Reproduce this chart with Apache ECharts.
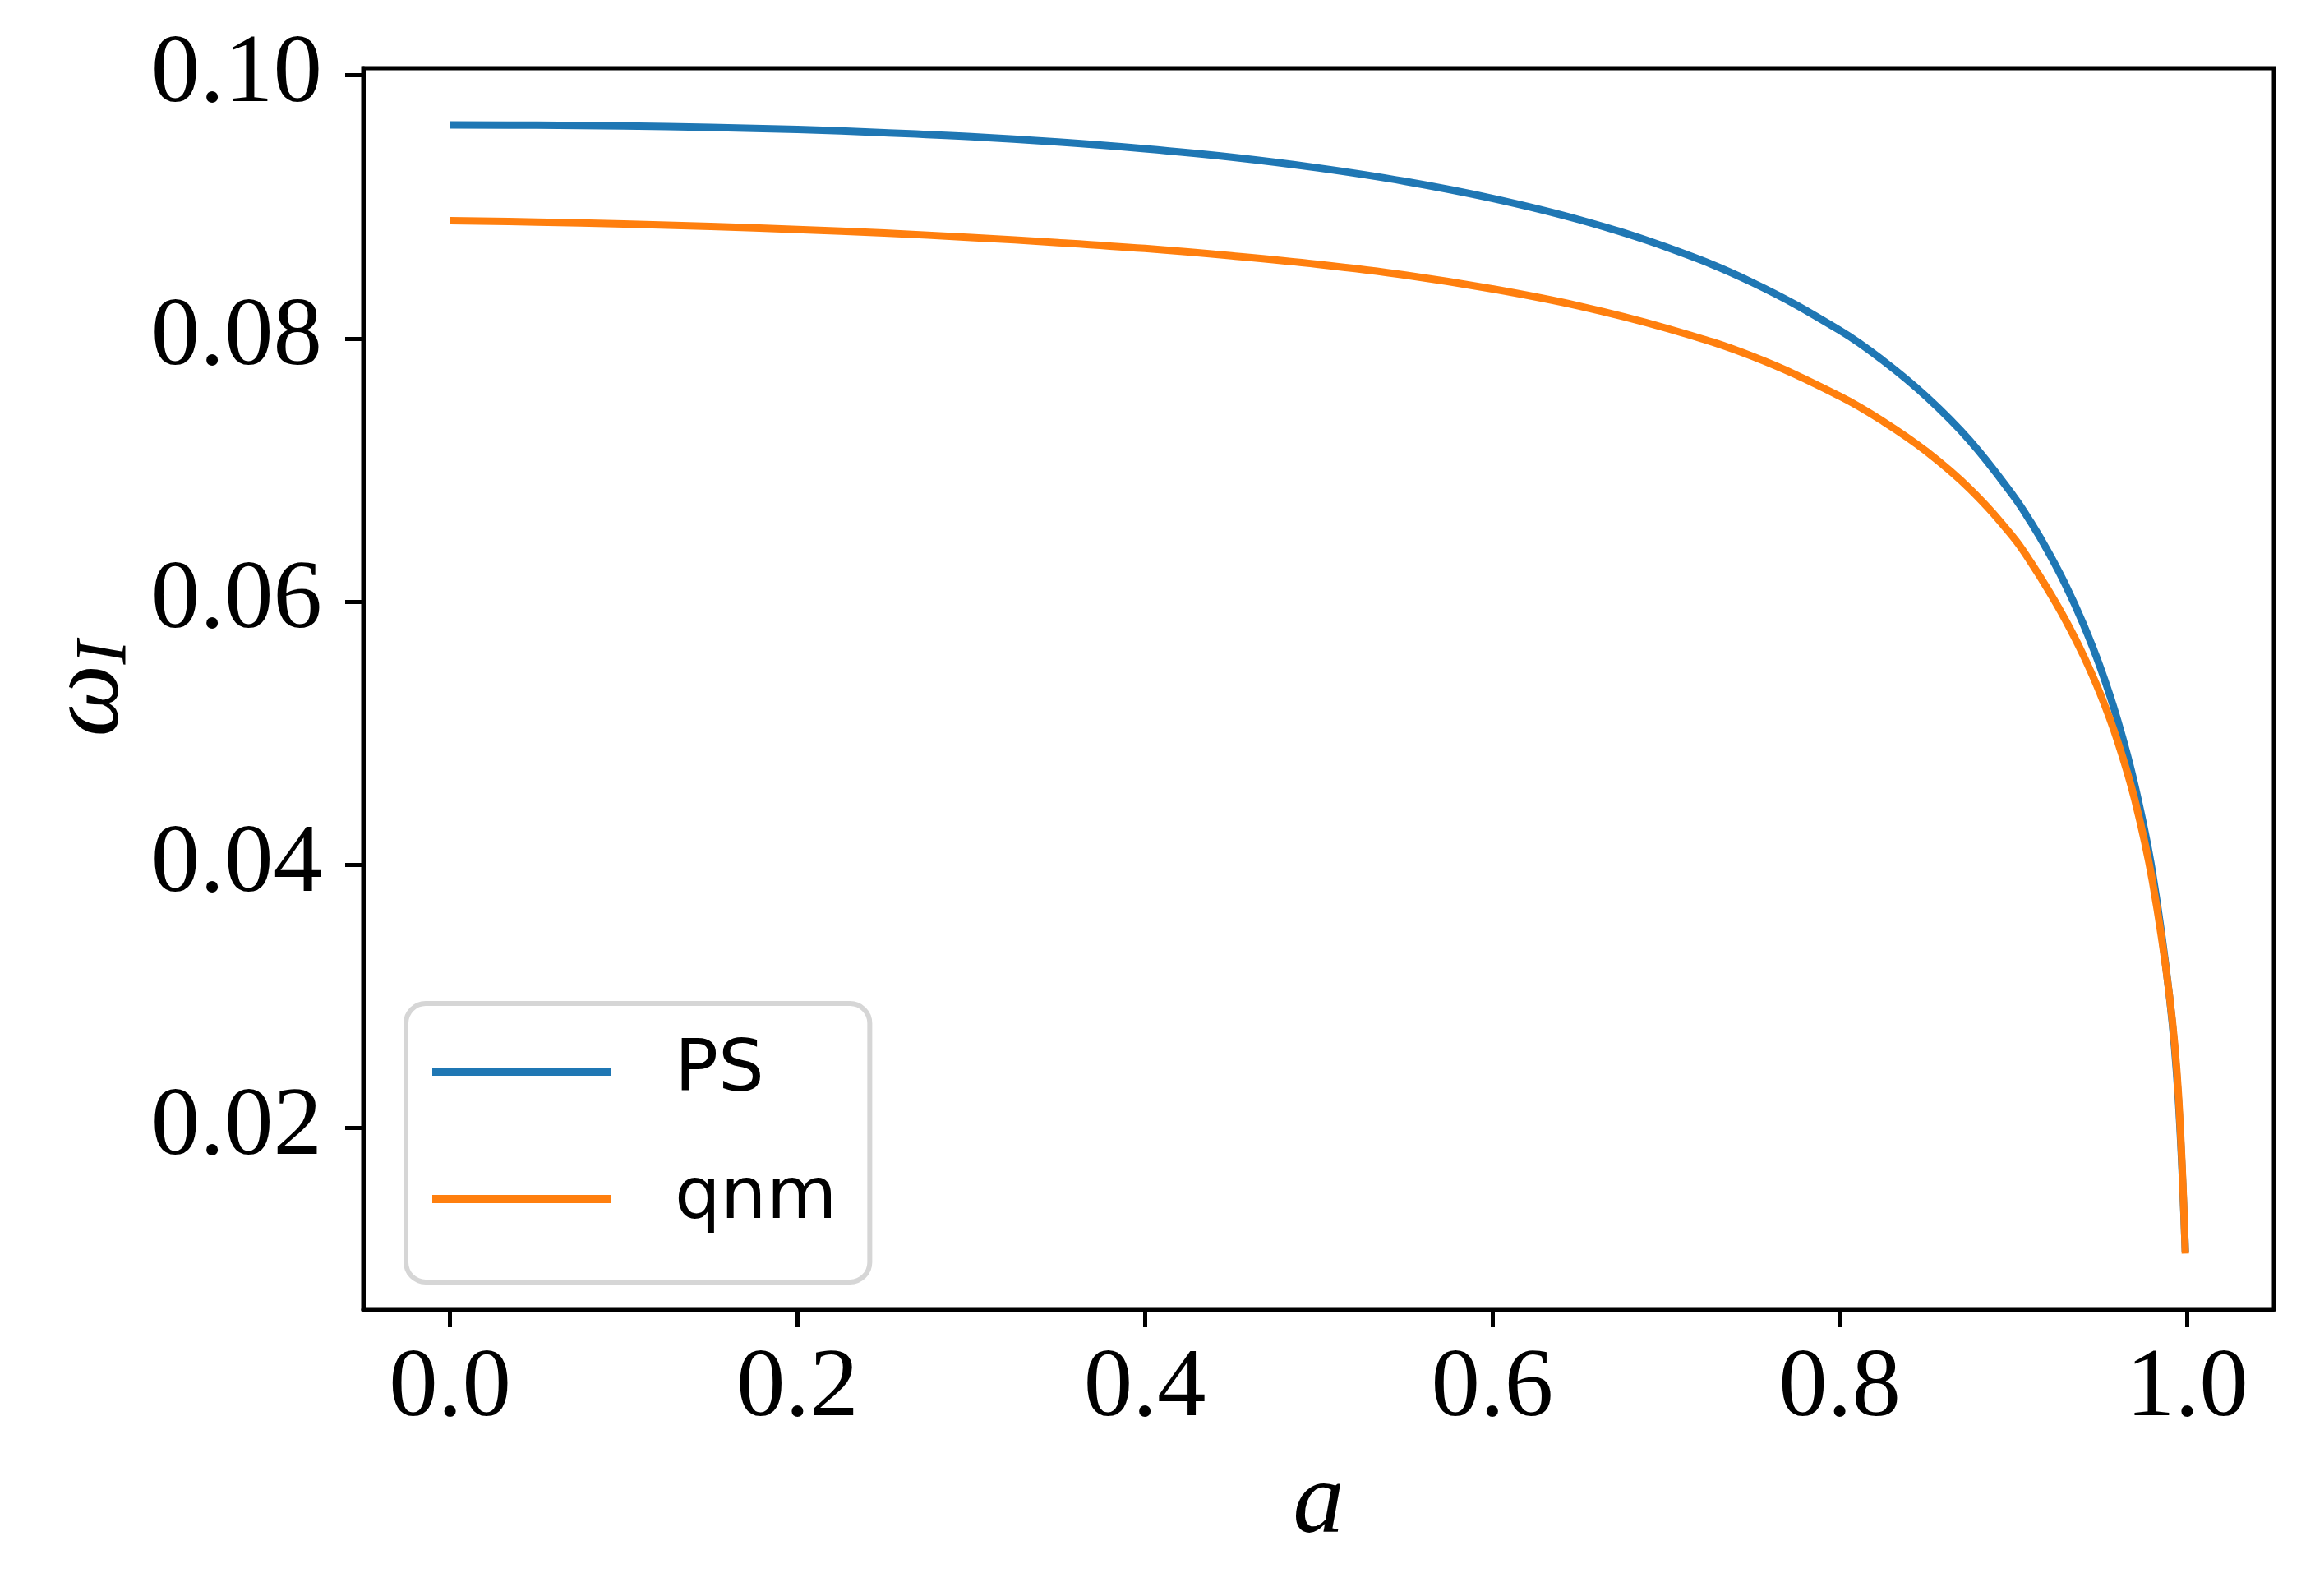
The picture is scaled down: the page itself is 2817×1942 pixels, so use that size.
<!DOCTYPE html>
<html>
<head>
<meta charset="utf-8">
<script src="https://cdn.jsdelivr.net/npm/echarts@6/dist/echarts.min.js"></script>
<style>
  html, body { margin: 0; padding: 0; background: #fff; }
  #chart { width: 2817px; height: 1942px; }
</style>
</head>
<body>
<div id="chart"></div>
<script>
// spin parameter a
const aValues = [0, 0.05, 0.1, 0.15, 0.2, 0.25, 0.3, 0.35, 0.4, 0.45, 0.5, 0.55, 0.6, 0.65, 0.7, 0.75, 0.8, 0.825, 0.85, 0.875, 0.9, 0.91, 0.92, 0.93, 0.94, 0.95, 0.96, 0.97, 0.98, 0.99, 0.995, 0.999]
// omega_I, photon sphere estimate
const psValues = [0.09623, 0.09621, 0.09615, 0.09604, 0.09588, 0.09564, 0.09534, 0.09493, 0.09442, 0.09378, 0.09296, 0.09194, 0.09065, 0.08903, 0.08695, 0.08424, 0.08062, 0.07832, 0.07557, 0.07223, 0.06804, 0.06605, 0.06381, 0.06129, 0.05838, 0.05502, 0.05099, 0.04601, 0.03948, 0.02984, 0.02214, 0.01058]
// omega_I, quasinormal mode
const qnmValues = [0.08896, 0.08885, 0.08870, 0.08851, 0.08829, 0.08801, 0.08768, 0.08729, 0.08684, 0.08628, 0.08563, 0.08482, 0.08377, 0.08247, 0.08079, 0.07863, 0.07562, 0.07370, 0.07141, 0.06856, 0.06489, 0.06300, 0.06090, 0.05860, 0.05600, 0.05300, 0.04940, 0.04490, 0.03880, 0.02990, 0.02260, 0.01045]

const xTicks = [0, 0.2, 0.4, 0.6, 0.8, 1.0]
const yTicks = [0.02, 0.04, 0.06, 0.08, 0.10]

const seriesNames = ['PS', 'qnm']
const seriesColors = ['#1f77b4', '#ff7f0e']

const tickFont = 'Liberation Serif, DejaVu Serif, serif'

const chart = echarts.init(document.getElementById('chart'), null, { renderer: 'canvas' })

const toPairs = (ys) => aValues.map((a, i) => [a, ys[i]])

chart.setOption({
  animation: false,
  backgroundColor: '#ffffff',
  grid: {
    left: 442,
    right: 50,
    top: 83,
    bottom: 349,
    containLabel: false,
    outerBoundsMode: 'none',
    show: true,
    borderColor: '#000',
    borderWidth: 5,
    backgroundColor: 'transparent'
  },
  legend: {
    orient: 'vertical',
    left: 494,
    top: 1221,
    data: seriesNames,
    icon: 'rect',
    itemWidth: 218,
    itemHeight: 10,
    itemGap: 25,
    padding: [18, 40, 36, 32],
    borderColor: '#d6d6d6',
    borderWidth: 6,
    borderRadius: 24,
    backgroundColor: '#fff',
    textStyle: {
      fontFamily: 'DejaVu Sans, sans-serif',
      fontSize: 88,
      lineHeight: 120,
      color: '#000',
      padding: [10, 0, 0, 72]
    }
  },
  xAxis: {
    type: 'value',
    min: -0.05,
    max: 1.05,
    name: 'a',
    nameLocation: 'middle',
    nameGap: 238,
    nameTextStyle: {
      fontFamily: tickFont,
      fontStyle: 'italic',
      fontSize: 125,
      color: '#000',
      verticalAlign: 'middle'
    },
    splitLine: { show: false },
    axisLine: { show: true, onZero: false, lineStyle: { color: '#000', width: 5 } },
    axisTick: {
      show: true,
      length: 22,
      lineStyle: { color: '#000', width: 5 },
      customValues: xTicks
    },
    axisLabel: {
      fontFamily: tickFont,
      fontSize: 119,
      color: '#000',
      margin: 38,
      customValues: xTicks,
      formatter: (v) => v.toFixed(1)
    }
  },
  yAxis: {
    type: 'value',
    min: 0.00623,
    max: 0.10054,
    name: '{w|ω}{s|I}',
    nameLocation: 'middle',
    nameRotate: 90,
    nameGap: 263,
    nameTextStyle: {
      color: '#000',
      rich: {
        w: { fontFamily: tickFont, fontStyle: 'italic', fontSize: 125, color: '#000' },
        s: { fontFamily: tickFont, fontStyle: 'italic', fontSize: 88, color: '#000', verticalAlign: 'bottom', padding: [30, 0, 0, 0] }
      }
    },
    splitLine: { show: false },
    axisLine: { show: true, onZero: false, lineStyle: { color: '#000', width: 5 } },
    axisTick: {
      show: true,
      length: 22,
      lineStyle: { color: '#000', width: 5 },
      customValues: yTicks
    },
    axisLabel: {
      fontFamily: tickFont,
      fontSize: 119,
      color: '#000',
      margin: 50,
      customValues: yTicks,
      formatter: (v) => v.toFixed(2)
    }
  },
  series: [
    {
      name: seriesNames[0],
      type: 'line',
      data: toPairs(psValues),
      showSymbol: false,
      smooth: 0.4,
      color: seriesColors[0],
      lineStyle: { color: seriesColors[0], width: 9 },
      z: 2
    },
    {
      name: seriesNames[1],
      type: 'line',
      data: toPairs(qnmValues),
      showSymbol: false,
      smooth: 0.4,
      color: seriesColors[1],
      lineStyle: { color: seriesColors[1], width: 9 },
      z: 3
    }
  ]
})
</script>
</body>
</html>
